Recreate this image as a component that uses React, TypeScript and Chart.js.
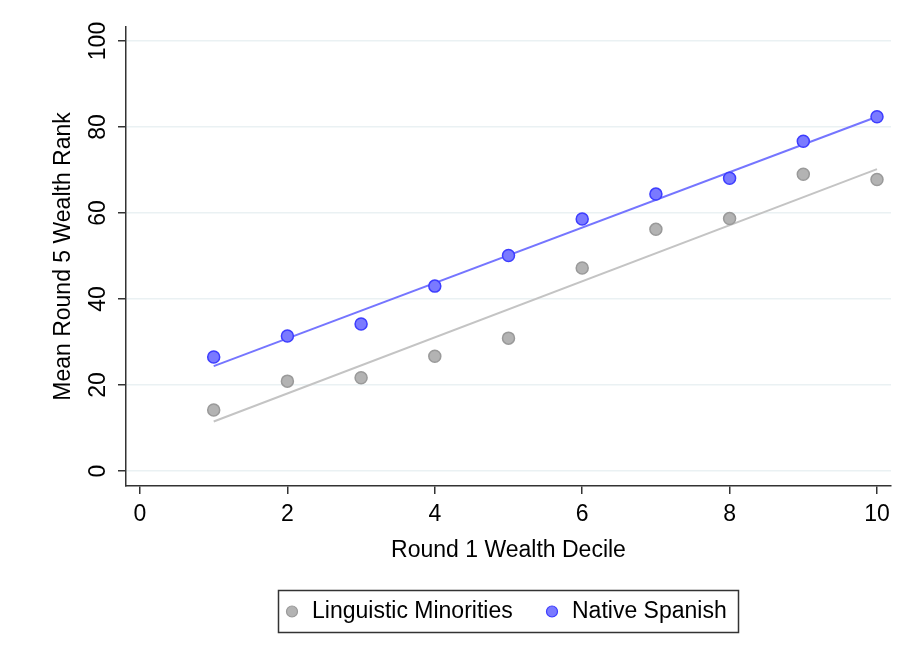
import React, { useEffect, useRef } from "react";
import { Chart, registerables } from "chart.js";

Chart.register(...registerables);

const deciles = [1, 2, 3, 4, 5, 6, 7, 8, 9, 10];
const minoritiesMeans = [14.2, 20.9, 21.7, 26.7, 30.9, 47.2, 56.2, 58.7, 69.0, 67.8];
const spanishMeans = [26.5, 31.4, 34.2, 43.0, 50.1, 58.6, 64.4, 68.1, 76.7, 82.4];
const fitX = [1, 10];
const minoritiesFit = [11.5, 70.2];
const spanishFit = [24.4, 82.4];
const xTickValues = [0, 2, 4, 6, 8, 10];
const yTickValues = [0, 20, 40, 60, 80, 100];
const seriesNames = ["Linguistic Minorities", "Native Spanish"];
const xTitle = "Round 1 Wealth Decile";
const yTitle = "Mean Round 5 Wealth Rank";

const FONT = "'Liberation Sans', Arial, sans-serif";
const FS = 23;
const GREY_FILL = "#b3b3b3";
const GREY_EDGE = "#9a9a9a";
const BLUE_FILL = "#7a7aff";
const BLUE_EDGE = "#3d3dff";

const legendPlugin = {
  id: "boxLegend",
  afterDraw(chart: any) {
    const ctx = chart.ctx;
    ctx.save();
    ctx.strokeStyle = "#333";
    ctx.lineWidth = 1.5;
    ctx.strokeRect(278.5, 590.5, 460, 42);
    const items = [
      { x: 292, tx: 312, fill: GREY_FILL, edge: GREY_EDGE, label: seriesNames[0] },
      { x: 552, tx: 572, fill: BLUE_FILL, edge: BLUE_EDGE, label: seriesNames[1] },
    ];
    ctx.font = `${FS}px ${FONT}`;
    ctx.textBaseline = "middle";
    ctx.textAlign = "left";
    for (const it of items) {
      ctx.beginPath();
      ctx.arc(it.x, 611.5, 5.5, 0, Math.PI * 2);
      ctx.fillStyle = it.fill;
      ctx.fill();
      ctx.lineWidth = 1.2;
      ctx.strokeStyle = it.edge;
      ctx.stroke();
      ctx.fillStyle = "#000";
      ctx.fillText(it.label, it.tx, 612);
    }
    ctx.restore();
  },
};

export default function App() {
  const ref = useRef<HTMLCanvasElement>(null);
  useEffect(() => {
    const canvas = ref.current;
    if (!canvas) return;
    const chart = new Chart(canvas, {
      type: "scatter",
      data: {
        datasets: [
          {
            label: seriesNames[1],
            data: deciles.map((x, i) => ({ x, y: spanishMeans[i] })),
            backgroundColor: BLUE_FILL,
            borderColor: BLUE_EDGE,
            borderWidth: 1.5,
            pointRadius: 6,
            showLine: false,
          },
          {
            label: seriesNames[0],
            data: deciles.map((x, i) => ({ x, y: minoritiesMeans[i] })),
            backgroundColor: GREY_FILL,
            borderColor: GREY_EDGE,
            borderWidth: 1.5,
            pointRadius: 6,
            showLine: false,
          },
          {
            label: "fit-spanish",
            data: fitX.map((x, i) => ({ x, y: spanishFit[i] })),
            borderColor: "#7575ff",
            borderWidth: 2,
            pointRadius: 0,
            showLine: true,
          },
          {
            label: "fit-minorities",
            data: fitX.map((x, i) => ({ x, y: minoritiesFit[i] })),
            borderColor: "#c4c4c4",
            borderWidth: 2,
            pointRadius: 0,
            showLine: true,
          },
        ],
      },
      options: {
        animation: false,
        responsive: false,
        layout: { padding: { left: 49.4, right: 13, top: 27, bottom: 99 } },
        plugins: { legend: { display: false }, tooltip: { enabled: false } },
        scales: {
          x: {
            type: "linear",
            min: -0.19,
            max: 10.19,
            afterBuildTicks: (s: any) => {
              s.ticks = xTickValues.map((v) => ({ value: v }));
            },
            afterFit: (s: any) => {
              s.height = 78;
            },
            border: { display: true, color: "#333", width: 1.5 },
            grid: { display: true, drawOnChartArea: false, drawTicks: true, tickLength: 8, tickColor: "#333", lineWidth: 1.5 },
            ticks: { color: "#000", font: { family: FONT, size: FS }, padding: 7, maxRotation: 0 },
            title: { display: true, text: xTitle, color: "#000", font: { family: FONT, size: FS }, padding: { top: 0, bottom: 0 } },
          },
          y: {
            type: "linear",
            min: -3.49,
            max: 103.26,
            afterBuildTicks: (s: any) => {
              s.ticks = yTickValues.map((v) => ({ value: v }));
            },
            afterFit: (s: any) => {
              s.width = 76.6;
            },
            border: { display: true, color: "#333", width: 1.5 },
            grid: { display: true, color: "#eaf1f3", lineWidth: 1.5, drawTicks: true, tickLength: 8, tickColor: "#333" },
            ticks: { color: "#000", font: { family: FONT, size: FS }, padding: 0, minRotation: 90, maxRotation: 90, crossAlign: "center" },
            title: { display: true, text: yTitle, color: "#000", font: { family: FONT, size: FS }, padding: { top: 0, bottom: 0 } },
          },
        },
      } as any,
      plugins: [legendPlugin],
    });
    return () => chart.destroy();
  }, []);
  return (
    <div style={{ position: "fixed", left: 0, top: 0, width: 904, height: 663, background: "#fff" }}>
      <canvas ref={ref} width={904} height={663} style={{ display: "block" }} />
    </div>
  );
}
